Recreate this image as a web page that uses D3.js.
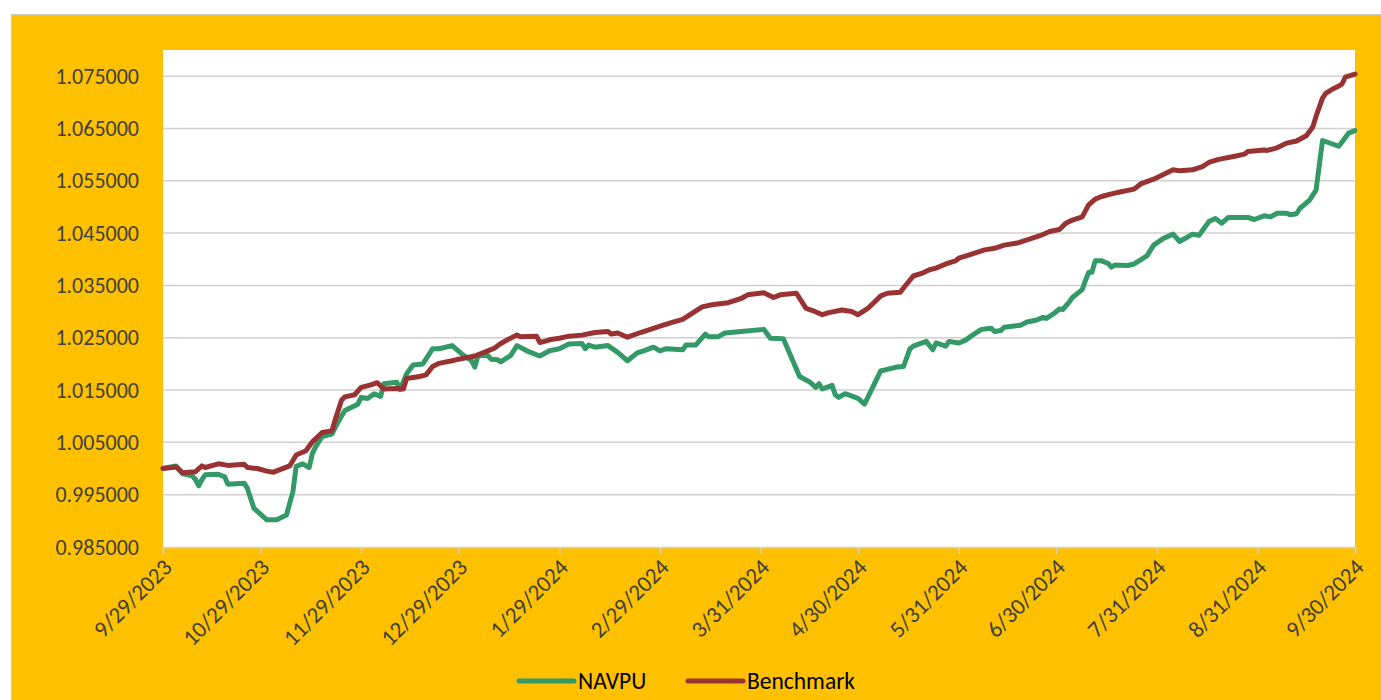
<!DOCTYPE html>
<html>
<head>
<meta charset="utf-8">
<script src="https://cdn.jsdelivr.net/npm/d3@7"></script>
<style>
  body { margin: 0; background: #fff; }
  text { font-family: Calibri, Carlito, Lato, sans-serif; }
</style>
</head>
<body>
<div id="chart"></div>
<script>
// series start date, points given as day offsets from it
const startDate = "9/29/2023";
const endDate = "9/30/2024";

const navDay = [0,4,6,9,10,11,12,13,17,19,20,25,26,28,30,32,35,38,40,41,43,45,46,47,49,52,54,56,60,61,63,65,67,68,72,73,75,77,80,82,83,85,89,92,95,96,97,100,101,103,104,107,109,112,116,119,122,125,129,130,131,133,137,140,143,146,148,151,153,155,160,161,164,167,168,171,173,178,185,187,191,196,199,201,202,203,206,207,208,210,214,216,221,222,226,228,230,231,235,237,238,241,242,245,247,249,252,255,256,258,259,264,266,269,271,272,274,276,277,279,280,283,284,285,286,287,289,291,292,293,297,299,301,303,305,308,311,313,317,319,322,324,326,328,334,336,339,341,343,346,347,349,350,353,355,357,362,363,365,367];
const navpu = [1.0000,1.0005,0.9990,0.9986,0.9979,0.9967,0.9979,0.9988,0.9989,0.9984,0.9970,0.9972,0.9962,0.9924,0.9913,0.9902,0.9902,0.9911,0.9956,1.0004,1.0009,1.0002,1.0029,1.0042,1.0061,1.0066,1.0090,1.0111,1.0123,1.0136,1.0134,1.0143,1.0138,1.0162,1.0165,1.0151,1.0181,1.0198,1.0200,1.0219,1.0229,1.0229,1.0235,1.0219,1.0206,1.0194,1.0216,1.0216,1.0209,1.0208,1.0204,1.0216,1.0235,1.0225,1.0215,1.0225,1.0229,1.0238,1.0239,1.0229,1.0236,1.0232,1.0235,1.0222,1.0206,1.0221,1.0225,1.0232,1.0225,1.0229,1.0227,1.0236,1.0236,1.0257,1.0252,1.0252,1.0259,1.0262,1.0266,1.0249,1.0248,1.0176,1.0166,1.0155,1.0162,1.0152,1.0159,1.0141,1.0136,1.0143,1.0134,1.0123,1.0187,1.0188,1.0194,1.0195,1.0229,1.0234,1.0243,1.0227,1.0240,1.0234,1.0243,1.0240,1.0245,1.0254,1.0266,1.0268,1.0262,1.0264,1.0270,1.0274,1.0280,1.0284,1.0289,1.0287,1.0295,1.0305,1.0304,1.0318,1.0327,1.0342,1.0359,1.0375,1.0375,1.0397,1.0397,1.0392,1.0385,1.0389,1.0388,1.0391,1.0399,1.0407,1.0427,1.0440,1.0448,1.0434,1.0448,1.0446,1.0472,1.0478,1.0469,1.0480,1.0480,1.0476,1.0483,1.0481,1.0488,1.0488,1.0485,1.0487,1.0497,1.0513,1.0532,1.0627,1.0616,1.0624,1.0641,1.0646];

const benchDay = [0,4,6,10,12,13,17,20,25,26,29,32,34,39,41,44,46,49,52,53,55,56,59,61,64,66,68,72,74,75,79,81,83,85,89,91,96,100,102,104,106,109,110,115,116,118,119,122,125,129,133,137,138,140,143,147,151,154,157,160,163,166,169,174,178,180,185,188,190,195,198,200,203,205,209,212,214,217,221,223,227,228,231,234,236,238,241,244,245,248,253,256,259,263,266,270,273,276,278,280,283,285,287,289,292,295,299,301,305,308,311,313,317,320,322,325,330,333,334,339,340,343,346,349,352,354,355,357,358,360,362,363,364,367];
const benchmark = [1.0000,1.0003,0.9992,0.9994,1.0005,1.0002,1.0009,1.0006,1.0008,1.0002,1.0000,0.9995,0.9993,1.0005,1.0026,1.0034,1.0051,1.0069,1.0072,1.0093,1.0131,1.0137,1.0141,1.0155,1.0160,1.0164,1.0152,1.0153,1.0152,1.0172,1.0176,1.0179,1.0195,1.0201,1.0206,1.0209,1.0215,1.0225,1.0230,1.0239,1.0246,1.0255,1.0252,1.0253,1.0241,1.0244,1.0246,1.0249,1.0253,1.0255,1.0260,1.0262,1.0257,1.0259,1.0251,1.0260,1.0268,1.0274,1.0280,1.0285,1.0297,1.0309,1.0313,1.0317,1.0325,1.0332,1.0336,1.0327,1.0332,1.0335,1.0306,1.0302,1.0294,1.0298,1.0303,1.0300,1.0294,1.0306,1.0330,1.0335,1.0337,1.0345,1.0368,1.0374,1.0380,1.0383,1.0391,1.0397,1.0402,1.0408,1.0418,1.0421,1.0427,1.0431,1.0437,1.0445,1.0453,1.0457,1.0469,1.0475,1.0481,1.0504,1.0515,1.0520,1.0525,1.0529,1.0534,1.0544,1.0553,1.0562,1.0571,1.0569,1.0571,1.0577,1.0585,1.0591,1.0597,1.0601,1.0606,1.0609,1.0608,1.0613,1.0622,1.0626,1.0636,1.0653,1.0673,1.0708,1.0717,1.0725,1.0731,1.0735,1.0748,1.0754];

const yTicks = [0.985, 0.995, 1.005, 1.015, 1.025, 1.035, 1.045, 1.055, 1.065, 1.075];
const xTicks = ["9/29/2023","10/29/2023","11/29/2023","12/29/2023","1/29/2024","2/29/2024","3/31/2024","4/30/2024","5/31/2024","6/30/2024","7/31/2024","8/31/2024","9/30/2024"];
const seriesNames = ["NAVPU", "Benchmark"];
const seriesColors = ["#339966", "#993333"];

const W = 1381, H = 700;
const plot = {left: 163, right: 1355, top: 50, bottom: 547};

const parse = d3.timeParse("%m/%d/%Y");
const fmt = d3.timeFormat("%-m/%-d/%Y");
const t0 = parse(startDate);

const svg = d3.select("#chart").append("svg")
  .attr("width", W)
  .attr("height", H);

// orange chart area
svg.append("rect")
  .attr("x", 11.5).attr("y", 14.5)
  .attr("width", W).attr("height", H)
  .attr("fill", "#FFC000")
  .attr("stroke", "#c8c8c8");

svg.append("rect")
  .attr("x", plot.left).attr("y", plot.top)
  .attr("width", plot.right - plot.left)
  .attr("height", plot.bottom - plot.top)
  .attr("fill", "#fff");

const x = d3.scaleTime()
  .domain([t0, parse(endDate)])
  .range([plot.left, plot.right]);

const y = d3.scaleLinear()
  .domain([0.985, 1.08])
  .range([plot.bottom, plot.top]);

// gridlines
svg.append("g")
  .selectAll("line")
  .data(yTicks.slice(1))
  .join("line")
    .attr("x1", plot.left).attr("x2", plot.right)
    .attr("y1", d => y(d)).attr("y2", d => y(d))
    .attr("stroke", "#d0d0d0")
    .attr("stroke-width", 1.5);

// y labels
svg.append("g")
  .selectAll("text")
  .data(yTicks)
  .join("text")
    .attr("x", 139)
    .attr("y", d => y(d))
    .attr("dy", "0.35em")
    .attr("text-anchor", "end")
    .attr("fill", "#404040")
    .style("font-size", "22px")
    .text(d => d3.format(".6f")(d));

// x axis
const xAxis = svg.append("g")
  .attr("transform", `translate(0,${plot.bottom})`)
  .call(d3.axisBottom(x)
    .tickValues(xTicks.map(parse))
    .tickSize(7)
    .tickFormat(fmt));
xAxis.select(".domain").attr("stroke", "#d0d0d0").attr("stroke-width", 1.5);
xAxis.selectAll(".tick line").attr("stroke", "#d0d0d0").attr("stroke-width", 1.5);
xAxis.selectAll(".tick text")
  .attr("fill", "#404040")
  .style("font-size", "23px")
  .attr("text-anchor", "end")
  .attr("transform", "translate(4,16) rotate(-45)")
  .attr("x", 0).attr("y", 0).attr("dy", "0.35em");

const line = d3.line()
  .x(d => x(d3.timeDay.offset(t0, d[0])))
  .y(d => y(d[1]));

const series = [
  d3.zip(navDay, navpu),
  d3.zip(benchDay, benchmark)
];

series.forEach(function(s, i) {
  svg.append("path")
    .datum(s)
    .attr("fill", "none")
    .attr("stroke", seriesColors[i])
    .attr("stroke-width", 5)
    .attr("stroke-linejoin", "round")
    .attr("stroke-linecap", "round")
    .attr("d", line);
});

// legend
const legendX = [519, 688];
const lg = svg.append("g")
  .selectAll("g")
  .data(seriesNames)
  .join("g")
    .attr("transform", (d, i) => `translate(${legendX[i]},681)`);
lg.append("line")
  .attr("x1", 0).attr("x2", 55)
  .attr("stroke", (d, i) => seriesColors[i])
  .attr("stroke-width", 5)
  .attr("stroke-linecap", "round");
lg.append("text")
  .attr("x", 59)
  .attr("dy", "0.35em")
  .attr("fill", "#000")
  .style("font-size", "23.5px")
  .text(d => d);
</script>
</body>
</html>
